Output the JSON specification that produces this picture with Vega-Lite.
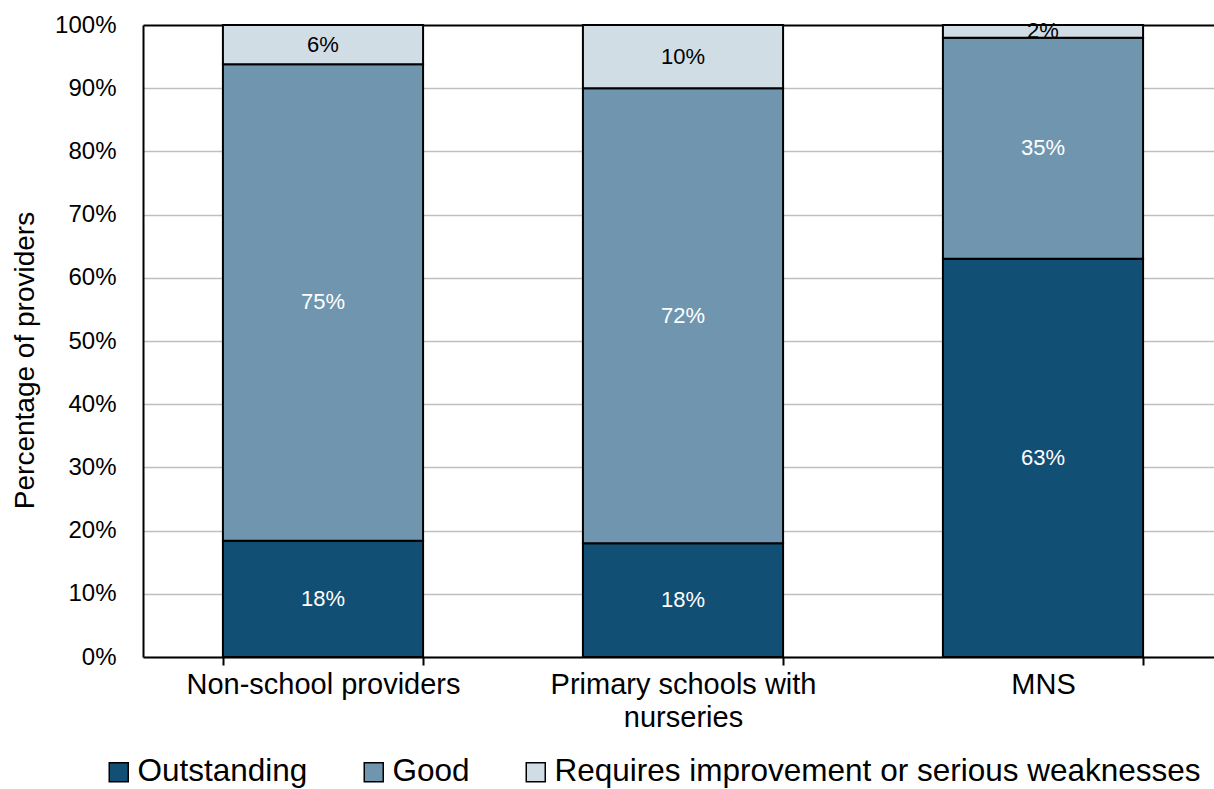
{
  "$schema": "https://vega.github.io/schema/vega-lite/v6.json",
  "width": 1080,
  "height": 632,
  "autosize": {"type": "none"},
  "padding": {"left": 143, "top": 25, "right": 0, "bottom": 132},
  "background": "white",
  "config": {
    "font": "Liberation Sans",
    "view": {"stroke": null}
  },
  "data": {
    "values": [
      {"provider": "Non-school providers", "rating": "Outstanding", "rank": 1, "share": 0.184},
      {"provider": "Non-school providers", "rating": "Good", "rank": 2, "share": 0.754},
      {"provider": "Non-school providers", "rating": "Requires improvement or serious weaknesses", "rank": 3, "share": 0.062},
      {"provider": "Primary schools with nurseries", "rating": "Outstanding", "rank": 1, "share": 0.18},
      {"provider": "Primary schools with nurseries", "rating": "Good", "rank": 2, "share": 0.72},
      {"provider": "Primary schools with nurseries", "rating": "Requires improvement or serious weaknesses", "rank": 3, "share": 0.10},
      {"provider": "MNS", "rating": "Outstanding", "rank": 1, "share": 0.63},
      {"provider": "MNS", "rating": "Good", "rank": 2, "share": 0.35},
      {"provider": "MNS", "rating": "Requires improvement or serious weaknesses", "rank": 3, "share": 0.02}
    ]
  },
  "encoding": {
    "x": {
      "field": "provider",
      "type": "nominal",
      "sort": ["Non-school providers", "Primary schools with nurseries", "MNS"],
      "scale": {"paddingInner": 0.444, "paddingOuter": 0.222},
      "axis": {
        "title": null,
        "labelAngle": 0,
        "labelFontSize": 29,
        "labelColor": "black",
        "labelLineHeight": 33,
        "labelPadding": 5,
        "labelLimit": 0,
        "labelExpr": "datum.label === 'Primary schools with nurseries' ? ['Primary schools with', 'nurseries'] : datum.label",
        "tickBand": "extent",
        "tickColor": "black",
        "tickWidth": 2,
        "tickSize": 8,
        "domainColor": "black",
        "domainWidth": 2,
        "grid": false
      }
    }
  },
  "layer": [
    {
      "mark": {"type": "bar", "stroke": "black", "strokeWidth": 2},
      "encoding": {
        "y": {
          "field": "share",
          "type": "quantitative",
          "stack": "zero",
          "scale": {"domain": [0, 1], "nice": false},
          "axis": {
            "format": ".0%",
            "values": [0, 0.1, 0.2, 0.3, 0.4, 0.5, 0.6, 0.7, 0.8, 0.9, 1],
            "title": "Percentage of providers",
            "titleFontSize": 28,
            "titleFontWeight": "normal",
            "titleColor": "black",
            "titleX": -118,
            "titleY": 335,
            "titleAlign": "center",
            "titleBaseline": "middle",
            "labelFontSize": 24,
            "labelColor": "black",
            "labelPadding": 27,
            "labelFlush": false,
            "labelOverlap": false,
            "ticks": false,
            "domainColor": "black",
            "domainWidth": 2,
            "gridColor": {"condition": {"test": "datum.value === 1", "value": "black"}, "value": "#bfbfbf"},
            "gridWidth": {"condition": {"test": "datum.value === 1", "value": 2}, "value": 1.5}
          }
        },
        "color": {
          "field": "rating",
          "type": "nominal",
          "scale": {
            "domain": ["Outstanding", "Good", "Requires improvement or serious weaknesses"],
            "range": ["#124f75", "#7096af", "#d0dde5"]
          },
          "legend": {
            "title": null,
            "orient": "none",
            "direction": "horizontal",
            "legendX": -40,
            "legendY": 731,
            "symbolType": "square",
            "symbolSize": 361,
            "symbolStrokeColor": "black",
            "symbolStrokeWidth": 1.5,
            "labelFontSize": 31.5,
            "labelColor": "black",
            "labelOffset": 3,
            "labelLimit": 0,
            "columnPadding": 50,
            "padding": 0
          }
        },
        "order": {"field": "rank", "type": "quantitative"}
      }
    },
    {
      "mark": {"type": "text", "fontSize": 22, "baseline": "middle", "align": "center"},
      "encoding": {
        "y": {"field": "share", "type": "quantitative", "stack": "zero", "bandPosition": 0.5},
        "detail": {"field": "rating"},
        "order": {"field": "rank", "type": "quantitative"},
        "text": {"field": "share", "type": "quantitative", "format": ".0%"},
        "color": {
          "condition": {"test": "datum.rank === 3", "value": "black"},
          "value": "white"
        }
      }
    }
  ]
}
